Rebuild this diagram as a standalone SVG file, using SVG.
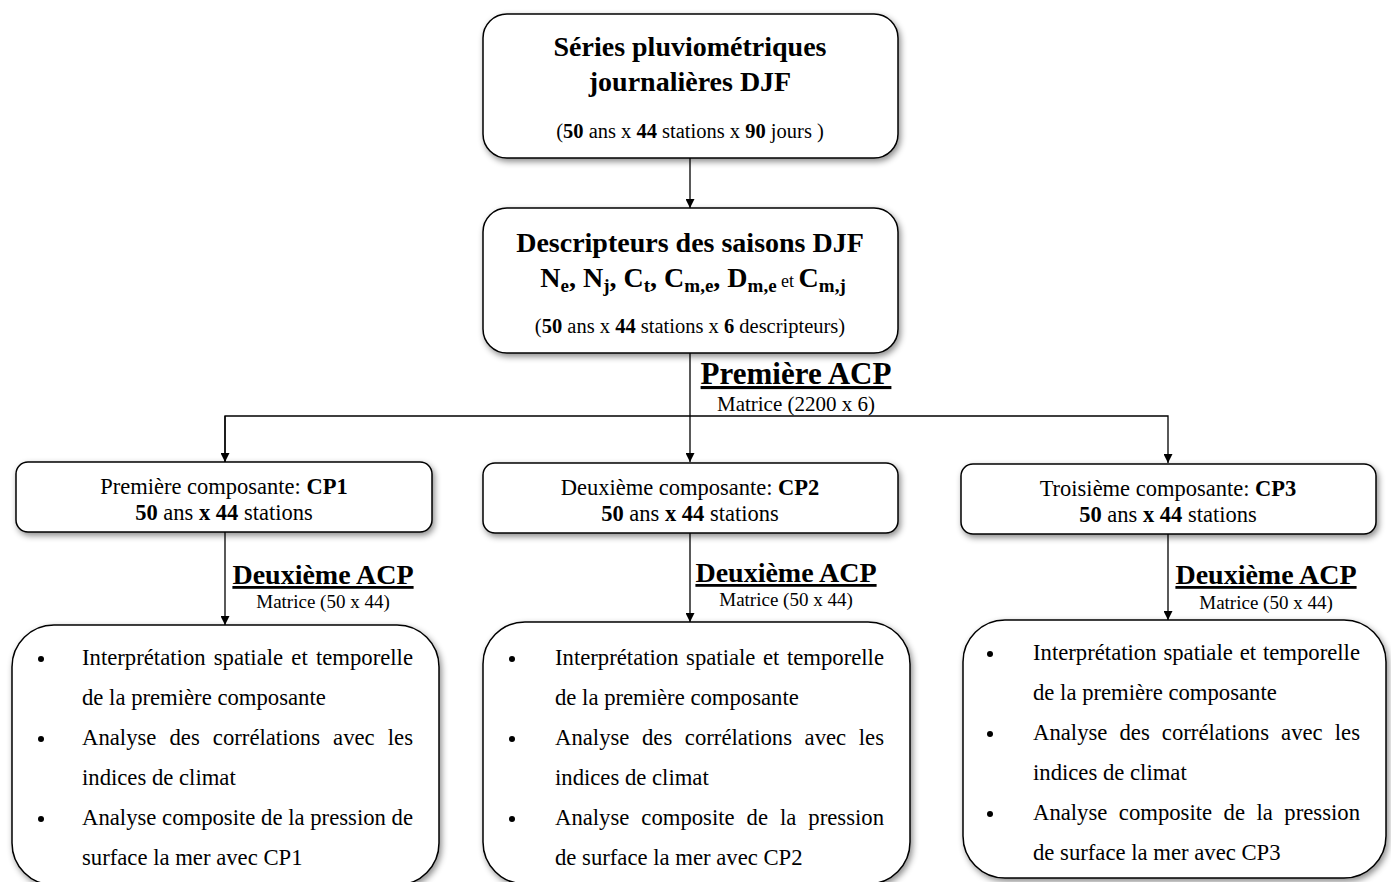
<svg xmlns="http://www.w3.org/2000/svg" width="1391" height="882" viewBox="0 0 1391 882">
<style>
text{font-family:"Liberation Serif","Times New Roman",serif;fill:#000}
.t{font-size:28px;font-weight:bold}
.s{font-size:20.5px}
.c{font-size:22.5px}
.h{font-size:31px;font-weight:bold;text-decoration:underline}
.h2{font-size:28px;font-weight:bold;text-decoration:underline}
.m{font-size:19px}
.m2{font-size:21px}
.l{font-size:22.7px}
.box{fill:#fff;stroke:#000;stroke-width:1.5;filter:url(#sh)}
.ln{stroke:#000;stroke-width:1.3;fill:none}
.b{font-weight:bold}
</style>
<defs>
<filter id="sh" x="-10%" y="-10%" width="120%" height="130%">
<feDropShadow dx="2" dy="3" stdDeviation="3" flood-color="#000" flood-opacity="0.45"/>
</filter>
<marker id="ar" viewBox="0 0 10 10" refX="10" refY="5" markerWidth="9" markerHeight="9" markerUnits="userSpaceOnUse" orient="auto">
<path d="M0,0 L10,5 L0,10 z" fill="#000"/>
</marker>
</defs>
<rect width="1391" height="882" fill="#fff"/>

<g id="connectors">
<line class="ln" x1="690" y1="158" x2="690" y2="208" marker-end="url(#ar)"/>
<line class="ln" x1="690" y1="353" x2="690" y2="462" marker-end="url(#ar)"/>
<polyline class="ln" points="225,462 225,416 1168,416 1168,463" marker-end="url(#ar)"/>
<line class="ln" x1="225" y1="416" x2="225" y2="462" marker-end="url(#ar)"/>
<line class="ln" x1="225" y1="532" x2="225" y2="625" marker-end="url(#ar)"/>
<line class="ln" x1="690" y1="533" x2="690" y2="622" marker-end="url(#ar)"/>
<line class="ln" x1="1168" y1="534" x2="1168" y2="620" marker-end="url(#ar)"/>
</g>

<g id="n1">
<rect class="box" x="483" y="14" width="415" height="144" rx="24"/>
<text class="t" x="690" y="56" text-anchor="middle">Séries pluviométriques</text>
<text class="t" x="690" y="91" text-anchor="middle">journalières DJF</text>
<text class="s" x="690" y="138" text-anchor="middle">(<tspan class="b">50</tspan> ans x <tspan class="b">44</tspan> stations x <tspan class="b">90</tspan> jours )</text>
</g>

<g id="n2">
<rect class="box" x="483" y="208" width="415" height="145" rx="24"/>
<text class="t" x="690" y="252" text-anchor="middle">Descripteurs des saisons DJF</text>
<text class="t" x="693" y="287" text-anchor="middle">N<tspan dy="5" font-size="19">e</tspan><tspan dy="-5">, N</tspan><tspan dy="5" font-size="19">j</tspan><tspan dy="-5">, C</tspan><tspan dy="5" font-size="19">t</tspan><tspan dy="-5">, C</tspan><tspan dy="5" font-size="19">m,e</tspan><tspan dy="-5">, D</tspan><tspan dy="5" font-size="19">m,e</tspan><tspan dy="-5" font-size="18" font-weight="normal"> et </tspan><tspan>C</tspan><tspan dy="5" font-size="19">m,j</tspan></text>
<text class="s" x="690" y="333" text-anchor="middle">(<tspan class="b">50</tspan> ans x <tspan class="b">44</tspan> stations x <tspan class="b">6</tspan> descripteurs)</text>
</g>

<g id="lab1">
<text class="h" x="796" y="384" text-anchor="middle">Première ACP</text>
<text class="m2" x="796" y="411" text-anchor="middle">Matrice (2200 x 6)</text>
</g>

<g id="cp1">
<rect class="box" x="16" y="462" width="416" height="70" rx="12"/>
<text class="c" x="224" y="494" text-anchor="middle">Première composante: <tspan class="b">CP1</tspan></text>
<text class="c" x="224" y="520" text-anchor="middle"><tspan class="b">50</tspan> ans <tspan class="b">x 44</tspan> stations</text>
</g>
<g id="cp2">
<rect class="box" x="483" y="463" width="415" height="70" rx="12"/>
<text class="c" x="690" y="495" text-anchor="middle">Deuxième composante: <tspan class="b">CP2</tspan></text>
<text class="c" x="690" y="521" text-anchor="middle"><tspan class="b">50</tspan> ans <tspan class="b">x 44</tspan> stations</text>
</g>
<g id="cp3">
<rect class="box" x="961" y="464" width="415" height="70" rx="12"/>
<text class="c" x="1168" y="496" text-anchor="middle">Troisième composante: <tspan class="b">CP3</tspan></text>
<text class="c" x="1168" y="522" text-anchor="middle"><tspan class="b">50</tspan> ans <tspan class="b">x 44</tspan> stations</text>
</g>

<g id="lab2">
<text class="h2" x="323" y="584" text-anchor="middle">Deuxième ACP</text>
<text class="m" x="323" y="608" text-anchor="middle">Matrice (50 x 44)</text>
</g>
<g id="lab3">
<text class="h2" x="786" y="582" text-anchor="middle">Deuxième ACP</text>
<text class="m" x="786" y="606" text-anchor="middle">Matrice (50 x 44)</text>
</g>
<g id="lab4">
<text class="h2" x="1266" y="584" text-anchor="middle">Deuxième ACP</text>
<text class="m" x="1266" y="609" text-anchor="middle">Matrice (50 x 44)</text>
</g>

<g id="r1">
<rect class="box" x="12" y="625" width="427" height="260" rx="42"/>
<circle cx="41" cy="659" r="3"/><circle cx="41" cy="739" r="3"/><circle cx="41" cy="819" r="3"/>
<text class="l" x="82" y="665" word-spacing="2.5" textLength="331" lengthAdjust="spacing">Interprétation spatiale et temporelle</text>
<text class="l" x="82" y="705">de la première composante</text>
<text class="l" x="82" y="745" word-spacing="7.4" textLength="331" lengthAdjust="spacing">Analyse des corrélations avec les</text>
<text class="l" x="82" y="785">indices de climat</text>
<text class="l" x="82" y="825" textLength="331" lengthAdjust="spacing">Analyse composite de la pression de</text>
<text class="l" x="82" y="865">surface la mer avec CP1</text>
</g>
<g id="r2">
<rect class="box" x="483" y="622" width="427" height="262" rx="42"/>
<circle cx="512" cy="659" r="3"/><circle cx="512" cy="739" r="3"/><circle cx="512" cy="819" r="3"/>
<text class="l" x="555" y="665" word-spacing="1.9" textLength="329" lengthAdjust="spacing">Interprétation spatiale et temporelle</text>
<text class="l" x="555" y="705">de la première composante</text>
<text class="l" x="555" y="745" word-spacing="6.9" textLength="329" lengthAdjust="spacing">Analyse des corrélations avec les</text>
<text class="l" x="555" y="785">indices de climat</text>
<text class="l" x="555" y="825" word-spacing="6.3" textLength="329" lengthAdjust="spacing">Analyse composite de la pression</text>
<text class="l" x="555" y="865">de surface la mer avec CP2</text>
</g>
<g id="r3">
<rect class="box" x="963" y="620" width="423" height="258" rx="42"/>
<circle cx="990" cy="654" r="3"/><circle cx="990" cy="734" r="3"/><circle cx="990" cy="814" r="3"/>
<text class="l" x="1033" y="660" word-spacing="1.2" textLength="327" lengthAdjust="spacing">Interprétation spatiale et temporelle</text>
<text class="l" x="1033" y="700">de la première composante</text>
<text class="l" x="1033" y="740" word-spacing="6.4" textLength="327" lengthAdjust="spacing">Analyse des corrélations avec les</text>
<text class="l" x="1033" y="780">indices de climat</text>
<text class="l" x="1033" y="820" word-spacing="5.8" textLength="327" lengthAdjust="spacing">Analyse composite de la pression</text>
<text class="l" x="1033" y="860">de surface la mer avec CP3</text>
</g>
</svg>
